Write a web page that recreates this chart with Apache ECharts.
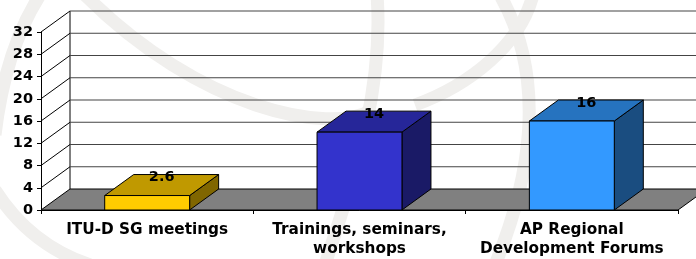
<!DOCTYPE html>
<html>
<head>
<meta charset="utf-8">
<script src="https://cdn.jsdelivr.net/npm/echarts@6/dist/echarts.min.js"></script>
<style>
  html, body { margin: 0; padding: 0; background: #fff; }
  #chart { width: 696px; height: 259px; }
</style>
</head>
<body>
<div id="chart"></div>
<script>
// data
var categories = ['ITU-D SG meetings', 'Trainings, seminars,\nworkshops', 'AP Regional\nDevelopment Forums'];
var values = [2.6, 14, 16];
var yTicks = [0, 4, 8, 12, 16, 20, 24, 28, 32];
var frontColors = ['#ffcc00', '#3333cc', '#3399ff'];
var topColors = ['#c09900', '#262699', '#2673bf'];
var sideColors = ['#806600', '#1a1a66', '#1a4d80'];

// depth of the 3d look, in pixels
var DX = 29, DY = -21;
var FONT = 'DejaVu Sans, Verdana, sans-serif';

var myChart = echarts.init(document.getElementById('chart'));

// walls, floor and gridlines drawn behind the bars
function renderFrame(params, api) {
	var r = params.coordSys;
	var x0 = r.x, x1 = r.x + r.width;
	var yb = api.coord([0, 0])[1];
	var yt = api.coord([0, yTicks[yTicks.length - 1]])[1];
	var children = [];
	// back wall left edge
	children.push({
		type: 'line',
		shape: { x1: x0 + DX, y1: yb + DY, x2: x0 + DX, y2: yt + DY },
		style: { stroke: '#000', lineWidth: 1 }
	});
	yTicks.forEach(function (v) {
		if (v === 0) return;
		var y = api.coord([0, v])[1];
		children.push({
			type: 'line',
			shape: { x1: x0, y1: y, x2: x0 + DX, y2: y + DY },
			style: { stroke: '#000', lineWidth: 1 }
		});
		children.push({
			type: 'line',
			shape: { x1: x0 + DX, y1: y + DY, x2: x1 + DX, y2: y + DY },
			style: { stroke: '#444', lineWidth: 1.2 }
		});
	});
	// floor
	children.push({
		type: 'polygon',
		shape: { points: [[x0, yb], [x1, yb], [x1 + DX, yb + DY], [x0 + DX, yb + DY]] },
		style: { fill: '#808080', stroke: '#000', lineWidth: 1 }
	});
	return { type: 'group', children: children };
}

function renderBar(params, api) {
	var i = api.value(0);
	var v = api.value(1);
	var top = api.coord([i, v]);
	var base = api.coord([i, 0]);
	var w = api.size([1, 0])[0] * 0.4;
	var xl = top[0] - w / 2, xr = top[0] + w / 2;
	var ty = top[1], by = base[1];
	var line = { stroke: '#000', lineWidth: 1 };
	return {
		type: 'group',
		children: [{
			type: 'polygon',
			shape: { points: [[xr, ty], [xr + DX, ty + DY], [xr + DX, by + DY], [xr, by]] },
			style: Object.assign({ fill: sideColors[i] }, line)
		}, {
			type: 'polygon',
			shape: { points: [[xl, ty], [xr, ty], [xr + DX, ty + DY], [xl + DX, ty + DY]] },
			style: Object.assign({ fill: topColors[i] }, line)
		}, {
			type: 'rect',
			shape: { x: xl, y: ty, width: w, height: by - ty },
			style: Object.assign({ fill: frontColors[i] }, line)
		}, {
			type: 'text',
			style: {
				text: String(v),
				x: top[0] + DX / 2,
				y: ty + DY / 2,
				align: 'center',
				verticalAlign: 'bottom',
				font: 'bold 14.5px ' + FONT,
				fill: '#000'
			}
		}]
	};
}

var barData = values.map(function (v, i) { return [i, v]; });

var wm = { stroke: '#f0efed', lineWidth: 13, fill: null };

var option = {
	animation: false,
	backgroundColor: '#fff',
	// faint logo watermark behind the chart
	graphic: [
		{ type: 'bezierCurve', z: -1, shape: { x1: 40, y1: -5, cpx1: 5, cpy1: 50, x2: -5, y2: 135 }, style: wm },
		{ type: 'bezierCurve', z: -1, shape: { x1: -5, y1: 190, cpx1: 30, cpy1: 245, x2: 90, y2: 265 }, style: wm },
		{ type: 'bezierCurve', z: -1, shape: { x1: 85, y1: -5, cpx1: 200, cpy1: 110, cpx2: 330, cpy2: 135, x2: 372, y2: 110 }, style: wm },
		{ type: 'bezierCurve', z: -1, shape: { x1: 377, y1: -5, cpx1: 385, cpy1: 100, cpx2: 345, cpy2: 200, x2: 325, y2: 265 }, style: wm },
		{ type: 'bezierCurve', z: -1, shape: { x1: 500, y1: -5, cpx1: 548, cpy1: 80, cpx2: 530, cpy2: 180, x2: 495, y2: 265 }, style: wm },
		{ type: 'bezierCurve', z: -1, shape: { x1: 533, y1: -5, cpx1: 520, cpy1: 45, cpx2: 470, cpy2: 85, x2: 415, y2: 105 }, style: wm }
	],
	grid: { left: 41, top: 32, width: 637, height: 182, containLabel: false },
	xAxis: {
		type: 'category',
		data: categories,
		axisLine: { show: true, lineStyle: { color: '#000', width: 1 } },
		axisTick: { show: true, length: 4, lineStyle: { color: '#000' } },
		axisLabel: {
			interval: 0,
			margin: 11,
			color: '#000',
			fontWeight: 'bold',
			fontSize: 15.3,
			lineHeight: 19,
			fontFamily: FONT
		},
		splitLine: { show: false }
	},
	yAxis: {
		type: 'value',
		min: 0,
		max: 32,
		interval: 4,
		axisLine: { show: true, lineStyle: { color: '#000', width: 1 } },
		axisTick: { show: true, length: 4, lineStyle: { color: '#000' } },
		axisLabel: {
			margin: 8,
			color: '#000',
			fontWeight: 'bold',
			fontSize: 14.5,
			fontFamily: FONT
		},
		splitLine: { show: false }
	},
	series: [{
		type: 'custom',
		name: 'frame',
		z: 1,
		silent: true,
		data: [[0, 0]],
		encode: { x: 0, y: 1 },
		renderItem: renderFrame
	}, {
		type: 'custom',
		name: 'bars',
		z: 3,
		data: barData,
		encode: { x: 0, y: 1 },
		renderItem: renderBar
	}]
};

myChart.setOption(option);
</script>
</body>
</html>
